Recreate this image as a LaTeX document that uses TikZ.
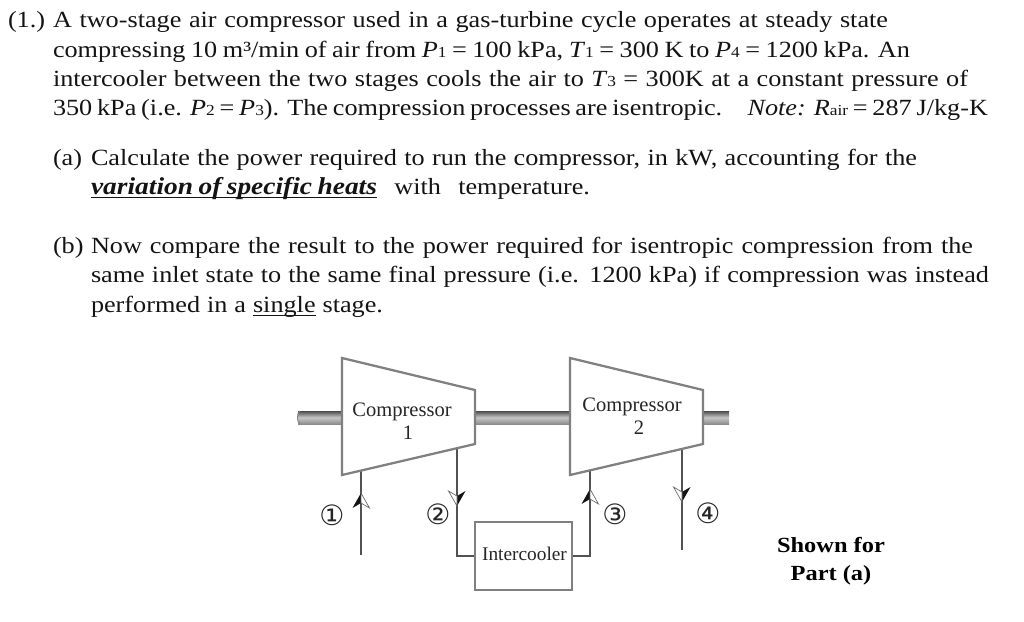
\documentclass[tikz,border=0pt]{standalone}
\usepackage{fontspec}
\setmainfont[FakeStretch=1.13]{Liberation Serif}
\newfontfamily\figfont{Liberation Serif}
\newfontfamily\circfont{DejaVu Sans}
\newcommand{\sbs}[1]{{\fontsize{11.5}{12}\selectfont\raisebox{-0.3pt}{#1}}}
\newcommand{\ulx}[2]{\leavevmode\setbox0\hbox{#2}\rlap{\raisebox{-3pt}{\rule{\wd0}{#1}}}\box0\relax}
\newcommand{\tl}[5]{\node[txt] (#1) at (#2,#3) {\hbox to \dimexpr #4pt*3/4\relax{#5}};}
\tikzset{
  x=0.75pt,y=-0.75pt,
  txt/.style={anchor=base west,inner sep=0pt,outer sep=0pt,text=black!92,font=\fontsize{17.4}{20}\selectfont},
  figlabel/.style={anchor=base,inner sep=0pt,text=black!85,font=\figfont\fontsize{15.4}{16}\selectfont},
  circnum/.style={inner sep=0pt,text=black!85,font=\circfont\fontsize{21}{22}\selectfont},
  shown/.style={inner sep=0pt,anchor=base,text=black,font=\fontsize{16.2}{20}\selectfont\bfseries},
  machine/.style={draw=black!50,line width=1.7pt,fill=white,line join=miter},
  pipe/.style={draw=black!68,line width=2.1pt},
  coolerbox/.style={draw=black!50,line width=1.5pt,fill=white,inner sep=0pt,minimum width=72.75pt,minimum height=51pt},
  shaft/.style={top color=black!70,bottom color=black!45,middle color=black!22},
  halfhead/.pic={
    \fill[black!92] (0,0) -- (-8.5,15) -- (0,10) -- cycle;
    \filldraw[fill=white,draw=black!60,line width=0.5pt] (0,0) -- (8.5,15) -- (0,10) -- cycle;
  }
}
\begin{document}
\begin{tikzpicture}
\useasboundingbox (0,0) rectangle (1024,621);
\fill[white] (0,0) rectangle (1024,621);

% problem text
\tl{n1}{8}{27}{36}{(1.)\hss}
\tl{l1}{53}{27}{835}{A two-stage air compressor used in a gas-turbine cycle operates at steady state}
\tl{l2}{53}{57}{857}{compressing 10 m³/min of air from \textit{P}\sbs{1} = 100 kPa, \textit{T}\sbs{1} = 300 K to \textit{P}\sbs{4} = 1200 kPa. An}
\tl{l3}{53}{86}{915}{intercooler between the two stages cools the air to \textit{T}\sbs{3} = 300K at a constant pressure of}
\tl{l4}{53}{115}{935}{350 kPa (i.e. \textit{P}\sbs{2} = \textit{P}\sbs{3}). The compression processes are isentropic.\hspace{19pt}\textit{Note:}\hspace{6pt}\textit{R}\sbs{air} = 287 J/kg-K}
\tl{a0}{53}{165}{30}{(a)\hss}
\tl{a1}{91}{165}{826}{Calculate the power required to run the compressor, in kW, accounting for the}
\tl{a2}{91}{194}{499}{\ulx{1.1pt}{\hbox to 214.5pt{\fontsize{18.2}{20}\selectfont\bfseries\itshape variation of specific heats}} with temperature.}
\tl{b0}{53}{253}{30}{(b)\hss}
\tl{b1}{91}{253}{882}{Now compare the result to the power required for isentropic compression from the}
\tl{b2}{91}{282}{898}{same inlet state to the same final pressure (i.e. 1200 kPa) if compression was instead}
\tl{b3}{91}{312}{292}{performed in a \ulx{0.8pt}{single} stage.}

% shafts
\shade[shaft] (298,411) rectangle (342,424);
\shade[shaft] (475,411) rectangle (570,424);
\shade[shaft] (703,411) rectangle (729,424);
\draw[black!50,line width=0.6pt] (300,411) arc[start angle=-90,end angle=-270,x radius=2.5,y radius=6.5];

% compressors
\coordinate (c1a) at (342,358); \coordinate (c1b) at (475,390);
\coordinate (c1c) at (475,444); \coordinate (c1d) at (342,475);
\coordinate (c2a) at (570,358); \coordinate (c2b) at (703,390);
\coordinate (c2c) at (703,444); \coordinate (c2d) at (570,475);
\coordinate (in1) at (361,471); \coordinate (in1e) at (361,555);
\coordinate (out1) at (457,448);
\coordinate (in2) at (590,471);
\coordinate (out2) at (682,449); \coordinate (out2e) at (682,550);

% intercooler and pipes
\node[coolerbox] (cool) at (523.5,556) {};
\draw[pipe] (in1e) -- (in1);
\draw[pipe] (out1) |- (cool.west);
\draw[pipe] (cool.east) -| (in2);
\draw[pipe] (out2) -- (out2e);
\draw[machine] (c1a) -- (c1b) -- (c1c) -- (c1d) -- cycle;
\draw[machine] (c2a) -- (c2b) -- (c2c) -- (c2d) -- cycle;

% arrowheads
\pic at (361,493) {halfhead};
\pic[rotate=180] at (457,506) {halfhead};
\pic at (590,489) {halfhead};
\pic[rotate=180] at (682,502) {halfhead};

% figure labels
\node[figlabel] (t1) at (402,416) {Compressor};
\node[figlabel] (t1n) at (408,439) {1};
\node[figlabel] (t2) at (632,411) {Compressor};
\node[figlabel] (t2n) at (639,434) {2};
\node[figlabel,font=\figfont\fontsize{14.5}{16}\selectfont] (t3) at (524.5,560) {Intercooler};
\node[circnum] (s1) at (332,515) {①};
\node[circnum] (s2) at (438,514) {②};
\node[circnum] (s3) at (615,514) {③};
\node[circnum] (s4) at (708,513) {④};
\node[shown] (sf1) at (831,552) {Shown for};
\node[shown] (sf2) at (831,580) {Part (a)};
\end{tikzpicture}
\end{document}
